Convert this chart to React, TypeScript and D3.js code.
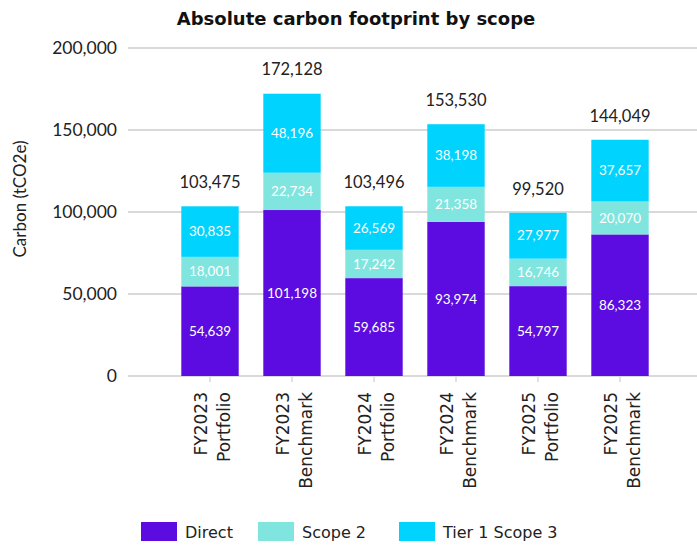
import React from 'react';
import * as d3 from 'd3';

// Chart data
const categories = [
  ['FY2023', 'Portfolio'],
  ['FY2023', 'Benchmark'],
  ['FY2024', 'Portfolio'],
  ['FY2024', 'Benchmark'],
  ['FY2025', 'Portfolio'],
  ['FY2025', 'Benchmark'],
];
const direct = [54639, 101198, 59685, 93974, 54797, 86323];
const scope2 = [18001, 22734, 17242, 21358, 16746, 20070];
const tier1Scope3 = [30835, 48196, 26569, 38198, 27977, 37657];
const totals = [103475, 172128, 103496, 153530, 99520, 144049];
const yTicks = [0, 50000, 100000, 150000, 200000];

const seriesInfo = [
  { name: 'Direct', values: direct, color: '#5c0be0' },
  { name: 'Scope 2', values: scope2, color: '#7fe5de' },
  { name: 'Tier 1 Scope 3', values: tier1Scope3, color: '#00d3fd' },
];

const W = 697;
const H = 545;
const NUM_FONT = "'Lato', 'Noto Sans', sans-serif";
const WIDE_FONT = "'DejaVu Sans', sans-serif";
const fmt = d3.format(',');

export default function App() {
  const y = d3.scaleLinear().domain([0, 200000]).range([376, 48]);
  const x = d3.scaleBand<number>()
    .domain(categories.map((_, i) => i))
    .range([169, 661])
    .paddingInner(0.3)
    .paddingOuter(0.15);

  const rows = categories.map((_, i) => {
    const obj: Record<string, number> = { idx: i };
    seriesInfo.forEach(s => { obj[s.name] = s.values[i]; });
    return obj;
  });
  const stacked = d3.stack<Record<string, number>>().keys(seriesInfo.map(s => s.name))(rows);

  const legendX = [141, 258, 399];

  return (
    <svg width={W} height={H} style={{ position: 'absolute', left: 0, top: 0, background: '#fff' }} fontFamily={NUM_FONT}>
      <text x={356} y={25} textAnchor="middle" fontSize={18} fontWeight="bold" fill="#111" fontFamily={WIDE_FONT}>
        Absolute carbon footprint by scope
      </text>

      {/* gridlines + y ticks */}
      {yTicks.map(t => (
        <g key={t}>
          <line x1={128} x2={697} y1={y(t)} y2={y(t)} stroke="#d9d9d9" strokeWidth={2} />
          <text x={117} y={y(t)} dy="0.35em" textAnchor="end" fontSize={17.5} fill="#222">{fmt(t)}</text>
        </g>
      ))}

      <text transform={`translate(20,${199}) rotate(-90)`} textAnchor="middle" dy="0.35em" fontSize={17} fill="#222">
        Carbon (tCO2e)
      </text>

      {/* bars */}
      {stacked.map((layer, si) => (
        <g key={layer.key} fill={seriesInfo[si].color}>
          {layer.map((d, i) => (
            <rect key={i} x={x(i)} width={x.bandwidth()} y={y(d[1])} height={y(d[0]) - y(d[1])} />
          ))}
        </g>
      ))}

      {/* segment labels */}
      {stacked.map((layer, si) => (
        <g key={'l' + layer.key}>
          {layer.map((d, i) => (
            <text key={i} x={(x(i) ?? 0) + x.bandwidth() / 2} y={y((d[0] + d[1]) / 2)} dy="0.35em"
              textAnchor="middle" fontSize={13.5} fill="#fff">
              {fmt(seriesInfo[si].values[i])}
            </text>
          ))}
        </g>
      ))}

      {/* totals */}
      {totals.map((t, i) => (
        <text key={i} x={(x(i) ?? 0) + x.bandwidth() / 2} y={y(t) - 24} dy="0.35em" textAnchor="middle"
          fontSize={16.5} fill="#222">{fmt(t)}</text>
      ))}

      {/* x axis ticks and labels */}
      {categories.map((c, i) => {
        const cx = (x(i) ?? 0) + x.bandwidth() / 2;
        return (
          <g key={i}>
            <line x1={cx} x2={cx} y1={377} y2={382} stroke="#d9d9d9" strokeWidth={1.5} />
            <text transform={`translate(${cx},${392}) rotate(-90)`} textAnchor="end" fontSize={17}
              fill="#222" fontFamily={WIDE_FONT}>
              <tspan x={0} dy="-0.15em">{c[0]}</tspan>
              <tspan x={0} dy="1.3em">{c[1]}</tspan>
            </text>
          </g>
        );
      })}

      {/* legend */}
      {seriesInfo.map((s, i) => (
        <g key={s.name} transform={`translate(${legendX[i]},522)`}>
          <rect width={36} height={19} fill={s.color} />
          <text x={44} y={10} dy="0.35em" fontSize={16} fill="#222" fontFamily={WIDE_FONT}>{s.name}</text>
        </g>
      ))}
    </svg>
  );
}
